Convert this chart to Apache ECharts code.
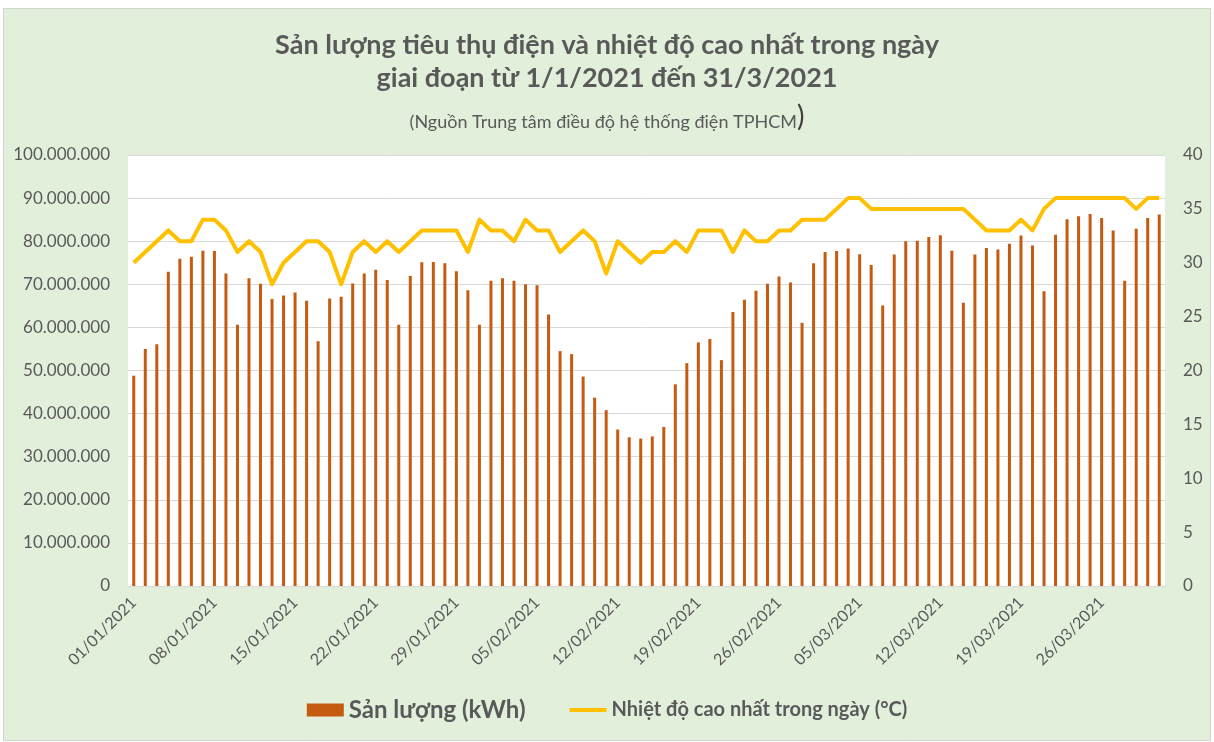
<!DOCTYPE html>
<html>
<head>
<meta charset="utf-8">
<script src="https://cdn.jsdelivr.net/npm/echarts@6/dist/echarts.min.js"></script>
<style>
  html, body { margin: 0; padding: 0; background: #fff; }
  #chart { width: 1214px; height: 742px; }
</style>
</head>
<body>
<div id="chart"></div>
<script>
// Sản lượng (kWh) theo ngày, 01/01/2021 - 31/03/2021
const sanLuong = [
  48800000, 55000000, 56100000, 72900000, 75900000, 76400000, 77800000, 77700000, 72500000, 60600000,
  71400000, 70100000, 66600000, 67400000, 68100000, 66200000, 56800000, 66700000, 67100000, 70200000,
  72500000, 73400000, 71000000, 60600000, 71900000, 75100000, 75200000, 74900000, 73000000, 68600000,
  60600000, 70800000, 71400000, 70800000, 70000000, 69800000, 63000000, 54500000, 53800000, 48600000,
  43700000, 40800000, 36300000, 34500000, 34200000, 34700000, 36900000, 46800000, 51700000, 56500000,
  57300000, 52400000, 63600000, 66400000, 68500000, 70100000, 71800000, 70400000, 61100000, 74900000,
  77500000, 77700000, 78300000, 77000000, 74500000, 65100000, 76900000, 80000000, 80100000, 81000000,
  81400000, 77800000, 65700000, 76900000, 78400000, 78100000, 79400000, 81300000, 79000000, 68400000,
  81500000, 85100000, 85800000, 86300000, 85400000, 82500000, 70800000, 82900000, 85400000, 86200000,
];

// Nhiệt độ cao nhất trong ngày (°C)
const nhietDo = [
  30, 31, 32, 33, 32, 32, 34, 34, 33, 31, 32, 31, 28, 30, 31, 32, 32, 31, 28, 31,
  32, 31, 32, 31, 32, 33, 33, 33, 33, 31, 34, 33, 33, 32, 34, 33, 33, 31, 32, 33,
  32, 29, 32, 31, 30, 31, 31, 32, 31, 33, 33, 33, 31, 33, 32, 32, 33, 33, 34, 34,
  34, 35, 36, 36, 35, 35, 35, 35, 35, 35, 35, 35, 35, 34, 33, 33, 33, 34, 33, 35,
  36, 36, 36, 36, 36, 36, 36, 35, 36, 36,
];

const seriesNames = ['Sản lượng (kWh)', 'Nhiệt độ cao nhất trong ngày (°C)'];

// nhãn ngày dd/mm/yyyy
const ngay = [];
for (let d = new Date(Date.UTC(2021, 0, 1)); ngay.length < sanLuong.length; d.setUTCDate(d.getUTCDate() + 1)) {
  const dd = String(d.getUTCDate()).padStart(2, '0');
  const mm = String(d.getUTCMonth() + 1).padStart(2, '0');
  ngay.push(`${dd}/${mm}/${d.getUTCFullYear()}`);
}

const textColor = '#595959';
const gridColor = '#d9d9d9';
const font = 'Lato, "Open Sans", sans-serif';

function dotFormat(v) {
  return String(v).replace(/\B(?=(\d{3})+(?!\d))/g, '.');
}

const chart = echarts.init(document.getElementById('chart'));
chart.setOption({
  backgroundColor: '#fff',
  animation: false,
  textStyle: { fontFamily: font },
  graphic: [
    {
      type: 'rect',
      z: -10,
      shape: { x: 3.5, y: 8.5, width: 1207, height: 732 },
      style: { fill: '#E2EFDA', stroke: '#d0d7cc', lineWidth: 1 },
    },
  ],
  title: [
    {
      text: 'Sản lượng tiêu thụ điện và nhiệt độ cao nhất trong ngày',
      left: 'center',
      top: 27,
      textStyle: { fontFamily: font, fontSize: 27, fontWeight: 'bold', color: textColor },
    },
    {
      text: 'giai đoạn từ 1/1/2021 đến 31/3/2021',
      left: 'center',
      top: 60,
      textStyle: { fontFamily: font, fontSize: 27, fontWeight: 'bold', color: textColor },
    },
    {
      text: '{a|(Nguồn Trung tâm điều độ hệ thống điện TPHCM}{b|)}',
      left: 'center',
      top: 98,
      textStyle: {
        rich: {
          a: { fontFamily: font, fontSize: 18, fontWeight: 'normal', color: textColor, verticalAlign: 'bottom' },
          b: { fontFamily: font, fontSize: 28, fontWeight: 'normal', color: '#404040', verticalAlign: 'bottom' },
        },
      },
    },
  ],
  legend: {
    bottom: 15,
    left: 'center',
    itemWidth: 37,
    itemHeight: 13,
    itemGap: 44,
    formatter: (name) => (name === seriesNames[0] ? `{a|${name}}` : `{b|${name}}`),
    textStyle: {
      color: textColor,
      rich: {
        a: { fontFamily: font, fontSize: 24, fontWeight: 'bold', color: textColor },
        b: { fontFamily: font, fontSize: 20, fontWeight: 'bold', color: textColor },
      },
    },
    data: [
      { name: seriesNames[0], icon: 'rect' },
      { name: seriesNames[1], icon: 'path://M0,0 L37,0 L37,4 L0,4 Z' },
    ],
  },
  grid: {
    left: 128,
    top: 155,
    width: 1037,
    height: 431,
    show: true,
    backgroundColor: '#fff',
    borderWidth: 0,
  },
  xAxis: {
    type: 'category',
    data: ngay,
    boundaryGap: true,
    axisLine: { lineStyle: { color: gridColor, width: 1 } },
    axisTick: { interval: 6, length: 5, lineStyle: { color: gridColor } },
    axisLabel: {
      interval: 6,
      rotate: 45,
      margin: 14,
      fontFamily: font,
      fontSize: 16,
      color: textColor,
    },
    splitLine: { show: false },
  },
  yAxis: [
    {
      type: 'value',
      min: 0,
      max: 100000000,
      interval: 10000000,
      axisLine: { show: false },
      axisTick: { show: false },
      axisLabel: {
        margin: 18,
        fontFamily: font,
        fontSize: 17,
        color: textColor,
        formatter: dotFormat,
      },
      splitLine: { lineStyle: { color: gridColor, width: 1 } },
    },
    {
      type: 'value',
      min: 0,
      max: 40,
      interval: 5,
      axisLine: { show: false },
      axisTick: { show: false },
      axisLabel: {
        margin: 18,
        fontFamily: font,
        fontSize: 17,
        color: textColor,
      },
      splitLine: { show: false },
    },
  ],
  series: [
    {
      name: seriesNames[0],
      type: 'bar',
      data: sanLuong,
      barWidth: 3,
      itemStyle: { color: '#C55A11' },
    },
    {
      name: seriesNames[1],
      type: 'line',
      yAxisIndex: 1,
      data: nhietDo,
      symbol: 'none',
      lineStyle: { color: '#FFC000', width: 4, join: 'round' },
      itemStyle: { color: '#FFC000' },
    },
  ],
});
</script>
</body>
</html>
